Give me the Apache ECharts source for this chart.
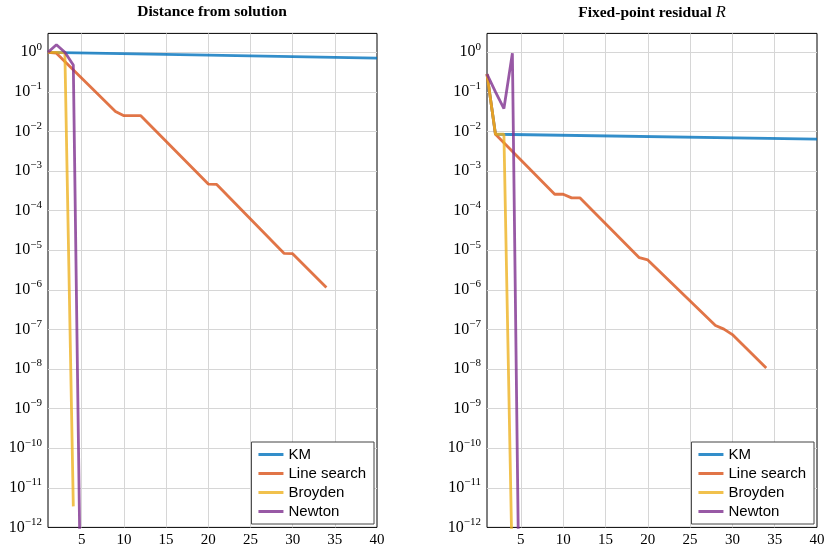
<!DOCTYPE html>
<html><head><meta charset="utf-8">
<script src="https://cdn.jsdelivr.net/npm/echarts@6/dist/echarts.min.js"></script>
<style>html,body{margin:0;padding:0;background:#fff}#c{width:830px;height:548px}</style>
</head><body><div id="c"></div>
<script>
// ---------- data ----------
const seriesNames = ['KM', 'Line search', 'Broyden', 'Newton'];
const xMin = 1, xMax = 40;
const yMin = 1e-12, yMax = 3;

// Left panel: distance from solution
const distKMx = [1, 20, 40];
const distKMy = [1, 0.85, 0.71];
const distLSx = [1, 2, 9, 10, 12, 20, 21, 29, 30, 34];
const distLSy = [1, 0.95, 0.032, 0.025, 0.025, 4.7e-4, 4.6e-4, 8.3e-6, 8.2e-6, 1.15e-6];
const distBRx = [1, 2, 3, 4];
const distBRy = [1, 1, 0.97, 3.4e-12];
const distNTx = [1, 2, 3, 4, 5];
const distNTy = [1, 1.55, 1.0, 0.48, 1e-16];

// Right panel: fixed-point residual R
const resKMx = [1, 2, 40];
const resKMy = [0.28, 0.0085, 0.0064];
const resLSx = [1, 2, 9, 10, 11, 12, 19, 20, 28, 29, 30, 34];
const resLSy = [0.28, 0.0085, 2.6e-4, 2.6e-4, 2.1e-4, 2.1e-4, 6.5e-6, 5.7e-6, 1.26e-7, 1.02e-7, 7.4e-8, 1.06e-8];
const resBRx = [1, 2, 3, 4];
const resBRy = [0.28, 0.0085, 0.0085, 6e-14];
const resNTx = [1, 2, 3, 4, 5];
const resNTy = [0.28, 0.1, 0.038, 0.95, 3e-18];

// ---------- styling ----------
const colors = ['rgba(0,114,189,0.8)', 'rgba(217,83,25,0.8)', 'rgba(237,177,32,0.8)', 'rgba(126,47,142,0.8)'];
const serif = 'Liberation Serif';
const sans = 'Liberation Sans';
const zip = (xs, ys) => xs.map((x, i) => [x, ys[i]]);

const panels = [
  [[distKMx, distKMy], [distLSx, distLSy], [distBRx, distBRy], [distNTx, distNTy]],
  [[resKMx, resKMy], [resLSx, resLSy], [resBRx, resBRy], [resNTx, resNTy]]
];
const grids = [
  {left: 48, top: 33.4, width: 329, height: 494},
  {left: 487, top: 33.4, width: 330, height: 494}
];

const xAxes = [], yAxes = [], series = [];
grids.forEach((g, gi) => {
  xAxes.push({
    type: 'value', gridIndex: gi, min: xMin, max: xMax, splitNumber: 8,
    axisLine: {show: false}, axisTick: {show: false},
    axisLabel: {showMinLabel: false, fontFamily: serif, fontSize: 15, color: '#000', margin: 5},
    splitLine: {show: true, showMinLine: false, showMaxLine: false, lineStyle: {color: '#d6d6d6', width: 1}}
  });
  // data axis (logarithmic, hidden)
  yAxes.push({
    type: 'log', gridIndex: gi, min: yMin, max: yMax, logBase: 10, show: false,
    splitLine: {show: false}
  });
  // decoration axis (decade labels & grid lines)
  yAxes.push({
    type: 'value', gridIndex: gi, position: 'left',
    min: Math.log10(yMin), max: Math.log10(yMax), interval: 1,
    axisLine: {show: false}, axisTick: {show: false},
    splitLine: {show: true, showMinLine: false, showMaxLine: false, lineStyle: {color: '#d6d6d6', width: 1}},
    axisLabel: {
      showMaxLabel: false, margin: 6,
      formatter: v => {
        const e = Math.round(v);
        return '{b|10}{s|' + (e === 0 ? '0' : '\u2212' + (-e)) + '}';
      },
      rich: {
        b: {fontFamily: serif, fontSize: 16, color: '#000', lineHeight: 22, verticalAlign: 'middle'},
        s: {fontFamily: serif, fontSize: 11, color: '#000', lineHeight: 11, verticalAlign: 'top'}
      }
    }
  });
  panels[gi].forEach((p, si) => {
    series.push({
      name: seriesNames[si], type: 'line', xAxisIndex: gi, yAxisIndex: gi * 2,
      data: zip(p[0], p[1]), symbol: 'none', showSymbol: false, clip: true,
      color: colors[si], lineStyle: {width: 2.8, color: colors[si]}, z: 2 + si
    });
  });
});

const legendBase = {
  orient: 'vertical', bottom: 24, padding: [5, 8, 5, 7], itemGap: 4,
  itemWidth: 25, itemHeight: 3, icon: 'rect',
  borderColor: '#444', borderWidth: 1, backgroundColor: '#fff',
  textStyle: {fontFamily: sans, fontSize: 15, color: '#000', padding: [0, 0, 0, 0]},
  data: seriesNames
};

const option = {
  animation: false,
  backgroundColor: '#fff',
  title: [
    {text: 'Distance from solution', left: 212, top: 4, textAlign: 'center', padding: 0,
     textStyle: {fontFamily: serif, fontWeight: 'bold', fontSize: 15.5, color: '#000'}},
    {text: '{b|Fixed-point residual} {i|R}', left: 652, top: 4, textAlign: 'center', padding: 0,
     textStyle: {fontFamily: serif, fontWeight: 'bold', fontSize: 15.5, color: '#000',
       rich: {b: {fontFamily: serif, fontWeight: 'bold', fontSize: 15.5, color: '#000'},
              i: {fontFamily: serif, fontStyle: 'italic', fontWeight: 'normal', fontSize: 16.5, color: '#000'}}}}
  ],
  grid: grids.map(g => Object.assign({show: true, borderColor: '#000', borderWidth: 1, backgroundColor: 'transparent'}, g)),
  xAxis: xAxes,
  yAxis: yAxes,
  legend: [
    Object.assign({}, legendBase, {right: 830 - 374}),
    Object.assign({}, legendBase, {right: 830 - 814})
  ],
  series: series
};

const chart = echarts.init(document.getElementById('c'), null, {renderer: 'canvas'});
chart.setOption(option);
</script>
</body></html>
